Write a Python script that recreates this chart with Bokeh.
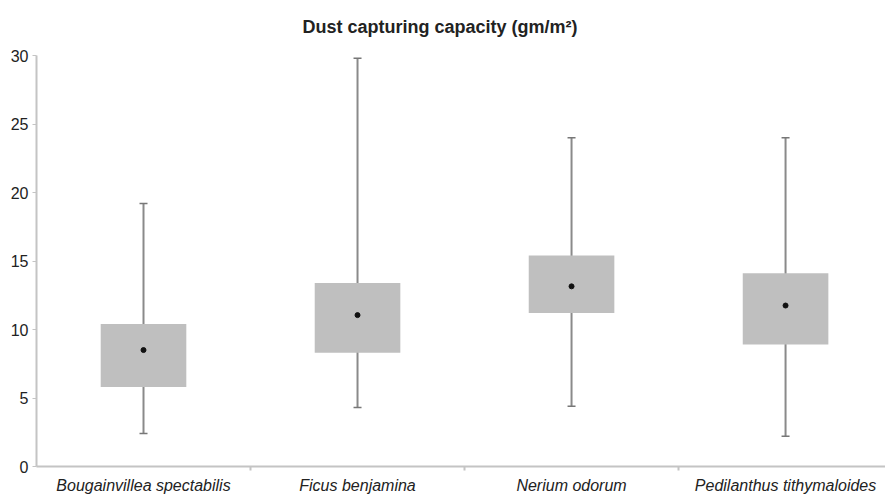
from bokeh.plotting import figure
from bokeh.models import Range1d, FixedTicker, ColumnDataSource
from bokeh.embed import file_html
from bokeh.resources import INLINE

categories = ["Bougainvillea spectabilis", "Ficus benjamina", "Nerium odorum", "Pedilanthus tithymaloides"]
whisker_min = [2.4, 4.3, 4.4, 2.2]
q1 = [5.8, 8.3, 11.2, 8.9]
q3 = [10.4, 13.4, 15.4, 14.1]
whisker_max = [19.2, 29.8, 24.0, 24.0]
means = [8.5, 11.05, 13.15, 11.75]
y_ticks = [0, 5, 10, 15, 20, 25, 30]
title_text = "Dust capturing capacity (gm/m\u00b2)"

centers = [i + 0.5 for i in range(len(categories))]
separators = [i for i in range(1, len(categories))]

src = ColumnDataSource(dict(x=centers, lo=whisker_min, q1=q1, q3=q3, hi=whisker_max, mean=means))

p = figure(width=885, height=496, output_backend="svg", toolbar_location=None,
           x_range=Range1d(0, 3.967), y_range=Range1d(0, 30),
           min_border_left=36, min_border_right=0, min_border_top=55, min_border_bottom=28)

p.title.text = title_text
p.title.align = "left"
p.title.offset = 266
p.title.standoff = 33
p.title.vertical_align = "top"
p.title.text_font = "Liberation Sans"
p.title.text_font_size = "18px"
p.title.text_font_style = "bold"
p.title.text_color = "#222222"

p.outline_line_color = None
p.xgrid.visible = False
p.ygrid.visible = False

p.segment(x0="x", y0="lo", x1="x", y1="hi", source=src, line_color="#8a8a8a", line_width=2)
p.vbar(x="x", bottom="q1", top="q3", width=0.4, source=src, fill_color="#bfbfbf", line_color=None)
p.scatter(x="x", y="lo", source=src, marker="dash", size=8, line_color="#777777", line_width=1.5)
p.scatter(x="x", y="hi", source=src, marker="dash", size=8, line_color="#777777", line_width=1.5)
p.scatter(x="x", y="mean", source=src, marker="circle", size=5, fill_color="#111111", line_color="#111111")

xa = p.xaxis[0]
xa.ticker = FixedTicker(ticks=centers, minor_ticks=separators)
xa.major_label_overrides = {pos: name for pos, name in zip(centers, categories)}
xa.major_tick_line_color = None
xa.major_tick_out = 0
xa.major_tick_in = 0
xa.minor_tick_line_color = "#c4c4c4"
xa.minor_tick_line_width = 2
xa.minor_tick_out = 4
xa.minor_tick_in = 0
xa.axis_line_color = "#c4c4c4"
xa.axis_line_width = 2
xa.major_label_text_font = "Liberation Sans"
xa.major_label_text_font_style = "italic"
xa.major_label_text_font_size = "16px"
xa.major_label_text_color = "#222222"
xa.major_label_standoff = 6

ya = p.yaxis[0]
ya.ticker = FixedTicker(ticks=y_ticks)
ya.minor_tick_line_color = None
ya.major_tick_line_color = "#c4c4c4"
ya.major_tick_out = 4
ya.major_tick_in = 0
ya.axis_line_color = "#c4c4c4"
ya.axis_line_width = 2
ya.major_label_text_font = "Liberation Sans"
ya.major_label_text_font_size = "16px"
ya.major_label_text_color = "#222222"
ya.major_label_standoff = 4

open("out.html", "w").write(file_html(p, INLINE))
